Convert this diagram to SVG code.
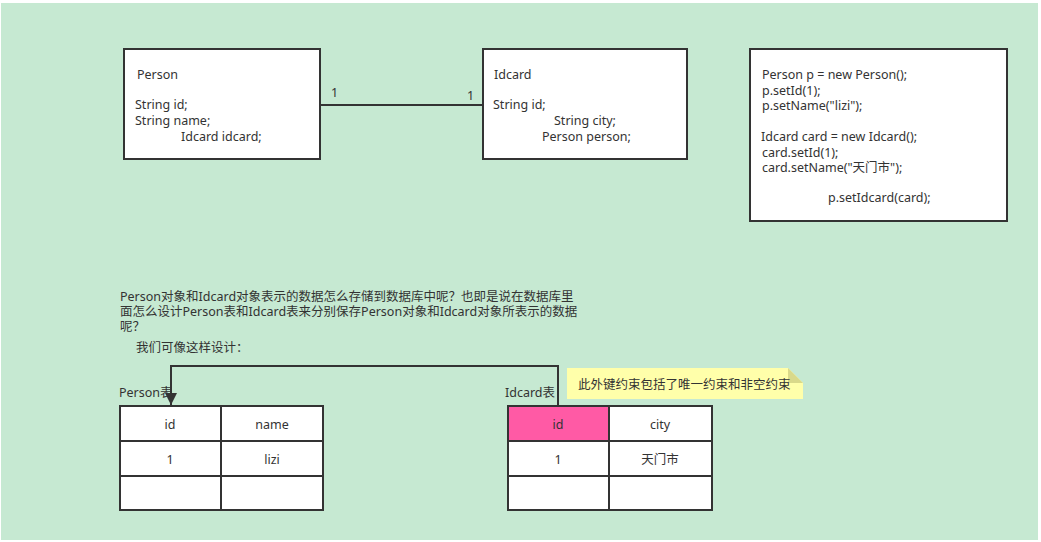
<svg xmlns="http://www.w3.org/2000/svg" width="1041" height="542" viewBox="0 0 1041 542">
<style>
.t{font-family:"Noto Sans","Noto Sans CJK SC",sans-serif;font-size:12.5px;fill:#333}
.box{fill:#fff;stroke:#333;stroke-width:2}
.cell{fill:#fff;stroke:#333;stroke-width:2}
.c{text-anchor:middle}
</style>
<defs>
<marker id="ah" markerWidth="12" markerHeight="12" refX="12" refY="6" orient="auto" markerUnits="userSpaceOnUse" viewBox="0 0 12 12">
<path d="M0,0 L12,6 L0,12 Z" fill="#333"/>
</marker>
</defs>
<rect x="0" y="0" width="1041" height="542" fill="#fff"/>
<rect x="1" y="3" width="1037" height="537" fill="#C6E9D2"/>
<g id="connectors">
<line x1="320" y1="105" x2="483" y2="105" stroke="#333" stroke-width="2"/>
<text class="t" x="331" y="97">1</text>
<text class="t" x="467" y="100">1</text>
<polyline points="558,406 558,366 171,366 171,405" fill="none" stroke="#333" stroke-width="2" marker-end="url(#ah)"/>
</g>
<g id="person">
<rect class="box" x="124" y="49" width="196" height="110"/>
<text class="t" x="137" y="79">Person</text>
<text class="t" x="135" y="109">String id;</text>
<text class="t" x="135" y="125">String name;</text>
<text class="t" x="181" y="141">Idcard idcard;</text>
</g>
<g id="idcard">
<rect class="box" x="483" y="49" width="204" height="110"/>
<text class="t" x="494" y="79">Idcard</text>
<text class="t" x="493" y="109">String id;</text>
<text class="t" x="554" y="125">String city;</text>
<text class="t" x="542" y="141">Person person;</text>
</g>
<g id="code">
<rect class="box" x="750" y="49" width="257" height="172"/>
<text class="t" x="762" y="79">Person p = new Person();</text>
<text class="t" x="762" y="95">p.setId(1);</text>
<text class="t" x="762" y="110">p.setName("lizi");</text>
<text class="t" x="761" y="141">Idcard card = new Idcard();</text>
<text class="t" x="762" y="157">card.setId(1);</text>
<text class="t" x="762" y="172">card.setName("天门市");</text>
<text class="t" x="828" y="202">p.setIdcard(card);</text>
</g>
<g id="question">
<text class="t" x="120" y="301">Person对象和Idcard对象表示的数据怎么存储到数据库中呢？也即是说在数据库里</text>
<text class="t" x="120" y="316">面怎么设计Person表和Idcard表来分别保存Person对象和Idcard对象所表示的数据</text>
<text class="t" x="120" y="331">呢？</text>
<text class="t" x="136" y="352">我们可像这样设计：</text>
</g>
<g id="person-table">
<text class="t" x="119" y="397">Person表</text>
<rect class="cell" x="120" y="406" width="101" height="35"/>
<rect class="cell" x="221" y="406" width="102" height="35"/>
<rect class="cell" x="120" y="441" width="101" height="35"/>
<rect class="cell" x="221" y="441" width="102" height="35"/>
<rect class="cell" x="120" y="476" width="101" height="34"/>
<rect class="cell" x="221" y="476" width="102" height="34"/>
<text class="t c" x="170" y="429">id</text>
<text class="t c" x="272" y="429">name</text>
<text class="t c" x="170" y="464">1</text>
<text class="t c" x="272" y="464">lizi</text>
</g>
<g id="idcard-table">
<text class="t" x="505" y="397">Idcard表</text>
<rect class="cell" x="508" y="406" width="101" height="35" style="fill:#FF5AA5"/>
<rect class="cell" x="609" y="406" width="103" height="35"/>
<rect class="cell" x="508" y="441" width="101" height="35"/>
<rect class="cell" x="609" y="441" width="103" height="35"/>
<rect class="cell" x="508" y="476" width="101" height="34"/>
<rect class="cell" x="609" y="476" width="103" height="34"/>
<text class="t c" x="558" y="429">id</text>
<text class="t c" x="660" y="429">city</text>
<text class="t c" x="558" y="464">1</text>
<text class="t c" x="660" y="464">天门市</text>
</g>
<g id="note">
<path d="M567,368 L788,368 L803,383 L803,399 L567,399 Z" fill="#FFFFAA"/>
<path d="M788,368 L788,383 L803,383 Z" fill="#D9D98A"/>
<text class="t" x="578" y="389">此外键约束包括了唯一约束和非空约束</text>
</g>
</svg>
